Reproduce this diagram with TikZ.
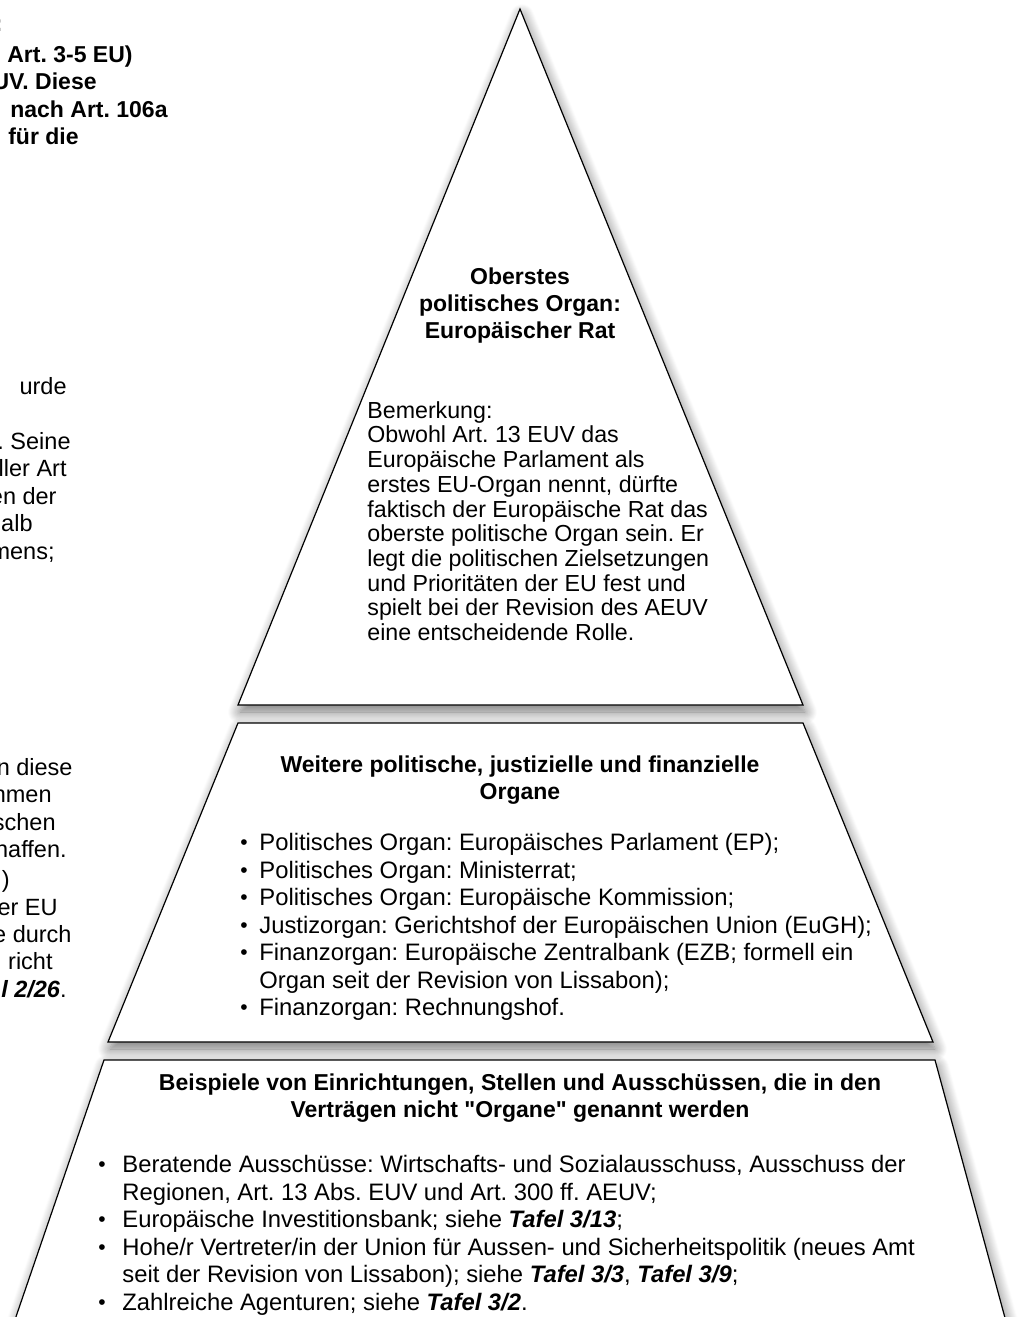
\documentclass[tikz,border=0pt]{standalone}
\usepackage{fontspec}
\setmainfont{Liberation Sans}
\usetikzlibrary{shadows.blur}
\newcommand{\tafel}[1]{\textbf{\textit{Tafel #1}}}
\newcommand{\punkt}{\raisebox{0.08ex}{\fontsize{10.5}{10.5}\selectfont\textbullet}}
\frenchspacing
\begin{document}
\begin{tikzpicture}[x=0.5pt,y=-0.5pt,
  stufe/.style={draw=black, line width=0.6pt, fill=white, blur shadow={shadow xshift=1pt, shadow yshift=-3.5pt, shadow blur radius=6pt, shadow blur steps=14, shadow opacity=55}},
  kopf/.style={align=center, inner sep=0pt, anchor=north, font=\fontsize{11.5}{13.5}\selectfont\bfseries},
  fliess/.style={align=left, inner sep=0pt, anchor=north west, font=\fontsize{11.6}{12.35}\selectfont},
  liste/.style={inner sep=0pt, anchor=north west, font=\fontsize{11.9}{13.75}\selectfont},
  rest/.style={anchor=base east, inner sep=0pt, font=\fontsize{11.75}{13.75}\selectfont},
  restfett/.style={rest, font=\fontsize{11.5}{13.75}\selectfont\bfseries}]
\useasboundingbox (0,0) rectangle (1023,1317);
\clip (0,0) rectangle (1023,1317);
\node [restfett] (r1) at (3,32) {:};
\node [restfett] (r2) at (133,62) {Art. 3-5 EU)};
\node [restfett] (r3) at (97,89) {UV. Diese};
\node [restfett] (r4) at (168,117) {nach Art. 106a};
\node [restfett] (r5) at (79,144) {für die};
\node [rest] (r6) at (67,394) {urde};
\node [rest] (r7) at (71,449) {. Seine};
\node [rest] (r8) at (67,476) {ller Art};
\node [rest] (r9) at (57,504) {en der};
\node [rest] (r10) at (33,531) {alb};
\node [rest] (r11) at (55,559) {mens;};
\node [rest] (r12) at (73,775) {n diese};
\node [rest] (r13) at (52,802) {nmen};
\node [rest] (r14) at (56,830) {schen};
\node [rest] (r15) at (67,857) {haffen.};
\node [rest] (r16) at (10,887) {)};
\node [rest] (r17) at (58,915) {er EU};
\node [rest] (r18) at (72,942) {e durch};
\node [rest] (r19) at (53,969) {richt};
\node [rest] (r20) at (67,997) {{\bfseries\itshape l 2/26}.};
\draw [stufe] (520,9) -- (803,705) -- (238,705) -- cycle;
\draw [stufe] (238,723) -- (803,723) -- (933,1042) -- (108,1042) -- cycle;
\draw [stufe] (104,1060) -- (935,1060) -- (1011,1340) -- (8,1340) -- cycle;
\node [kopf] (rat) at (520,267) {Oberstes\\politisches Organ:\\Europäischer Rat};
\node [fliess] (bemerkung) at (367,401) {Bemerkung:\\Obwohl Art. 13 EUV das\\Europäische Parlament als\\erstes EU-Organ nennt, dürfte\\faktisch der Europäische Rat das\\oberste politische Organ sein. Er\\legt die politischen Zielsetzungen\\und Prioritäten der EU fest und\\spielt bei der Revision des AEUV\\eine entscheidende Rolle.};
\node [kopf] (weitere) at (520,755) {Weitere politische, justizielle und finanzielle\\Organe};
\node [liste] (organe) at (240,831) {\begin{tabular}{@{}p{9.5pt}@{}l@{}}
\punkt & Politisches Organ: Europäisches Parlament (EP);\\
\punkt & Politisches Organ: Ministerrat;\\
\punkt & Politisches Organ: Europäische Kommission;\\
\punkt & Justizorgan: Gerichtshof der Europäischen Union (EuGH);\\
\punkt & Finanzorgan: Europäische Zentralbank (EZB; formell ein\\
 & Organ seit der Revision von Lissabon);\\
\punkt & Finanzorgan: Rechnungshof.
\end{tabular}};
\node [kopf] (beispiele) at (520,1073) {Beispiele von Einrichtungen, Stellen und Ausschüssen, die in den\\Verträgen nicht \textquotedbl Organe\textquotedbl{} genannt werden};
\node [liste] (einrichtungen) at (98,1153) {\begin{tabular}{@{}p{12pt}@{}l@{}}
\punkt & Beratende Ausschüsse: Wirtschafts- und Sozialausschuss, Ausschuss der\\
 & Regionen, Art. 13 Abs. EUV und Art. 300 ff. AEUV;\\
\punkt & Europäische Investitionsbank; siehe \tafel{3/13};\\
\punkt & Hohe/r Vertreter/in der Union für Aussen- und Sicherheitspolitik (neues Amt\\
 & seit der Revision von Lissabon); siehe \tafel{3/3}, \tafel{3/9};\\
\punkt & Zahlreiche Agenturen; siehe \tafel{3/2}.
\end{tabular}};
\end{tikzpicture}
\end{document}
